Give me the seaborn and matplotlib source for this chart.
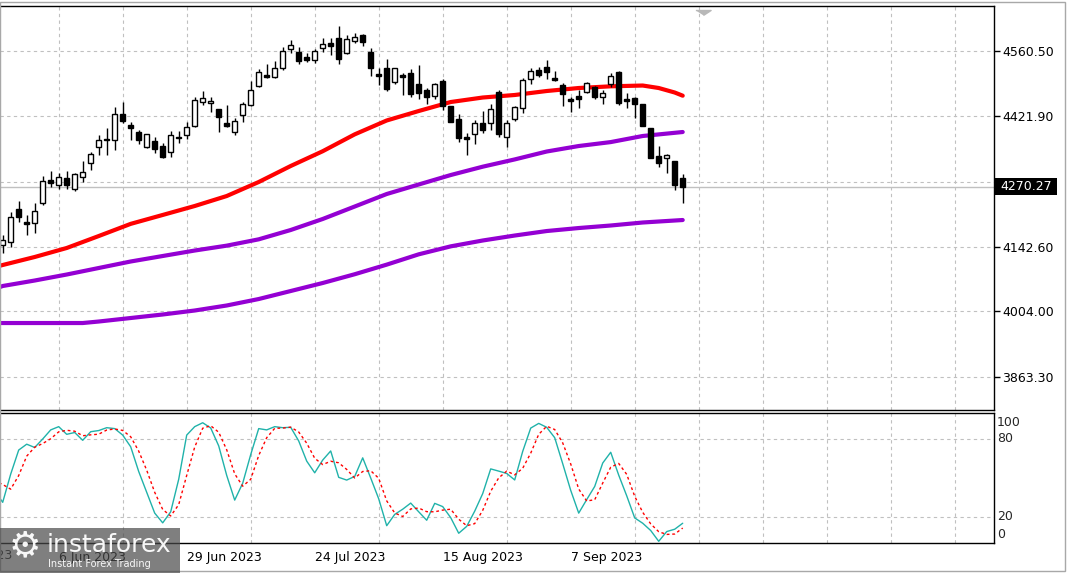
import numpy as np
import matplotlib
matplotlib.use("Agg")
import matplotlib.pyplot as plt
import matplotlib.transforms as mtransforms
from matplotlib.patches import Rectangle
import seaborn as sns

# ---------------- data ----------------
opens = [4145.9, 4152.9, 4222.7, 4195.0, 4192.8, 4235.5, 4284.6, 4273.9, 4288.8, 4265.4,
         4291.0, 4320.9, 4355.0, 4372.1, 4369.9, 4425.4, 4401.9, 4387.0, 4355.0, 4367.8,
         4357.1, 4344.3, 4376.3, 4380.6, 4399.8, 4451.0, 4448.9, 4436.1, 4406.2, 4387.0,
         4423.3, 4444.6, 4485.2, 4508.6, 4504.4, 4523.6, 4564.1, 4557.7, 4547.1, 4540.7,
         4566.3, 4576.9, 4587.6, 4555.6, 4581.2, 4594.0, 4557.7, 4510.8, 4523.6, 4493.7,
         4508.6, 4512.9, 4489.4, 4476.6, 4463.8, 4495.8, 4442.5, 4414.7, 4376.3, 4382.7,
         4406.2, 4406.2, 4472.4, 4376.3, 4414.7, 4438.2, 4500.1, 4519.3, 4525.7, 4502.2,
         4487.3, 4457.4, 4463.8, 4472.4, 4483.0, 4461.7, 4489.4, 4515.1, 4457.4, 4459.6,
         4446.8, 4395.5, 4335.8, 4331.5, 4325.1, 4288.8]
highs = [4167.2, 4216.9, 4239.8, 4209.9, 4235.5, 4293.1, 4303.8, 4299.5, 4303.8, 4299.5,
         4325.1, 4344.3, 4380.6, 4395.5, 4440.4, 4451.0, 4408.4, 4391.3, 4382.7, 4376.3,
         4363.5, 4389.1, 4389.1, 4408.4, 4461.7, 4474.5, 4461.7, 4436.1, 4444.6, 4416.9,
         4451.0, 4495.8, 4521.5, 4532.1, 4538.5, 4568.4, 4583.3, 4568.4, 4555.6, 4564.1,
         4587.6, 4587.6, 4613.2, 4594.0, 4598.3, 4596.1, 4566.3, 4523.6, 4542.8, 4523.6,
         4512.9, 4521.5, 4530.0, 4480.9, 4491.6, 4500.1, 4442.5, 4425.4, 4384.9, 4412.6,
         4431.8, 4446.8, 4476.6, 4412.6, 4442.5, 4502.2, 4523.6, 4525.7, 4540.7, 4517.2,
         4491.6, 4461.7, 4476.6, 4493.7, 4485.2, 4476.6, 4512.9, 4517.2, 4470.2, 4461.7,
         4446.8, 4395.5, 4357.1, 4340.1, 4325.1, 4297.4]
lows = [4128.8, 4141.6, 4195.0, 4167.2, 4171.5, 4231.2, 4269.6, 4265.4, 4265.4, 4261.1,
        4280.3, 4305.9, 4337.9, 4337.9, 4348.6, 4406.2, 4369.9, 4361.4, 4352.9, 4342.2,
        4331.5, 4333.7, 4363.5, 4372.1, 4397.7, 4444.6, 4429.7, 4387.0, 4397.7, 4380.6,
        4408.4, 4442.5, 4483.0, 4502.2, 4502.2, 4519.3, 4555.6, 4532.1, 4536.4, 4534.3,
        4557.7, 4551.3, 4532.1, 4553.5, 4576.9, 4570.5, 4506.5, 4487.3, 4474.5, 4489.4,
        4466.0, 4461.7, 4457.4, 4446.8, 4457.4, 4434.0, 4408.4, 4365.7, 4337.9, 4361.4,
        4384.9, 4391.3, 4376.3, 4355.0, 4410.5, 4427.6, 4489.4, 4504.4, 4500.1, 4495.8,
        4442.5, 4429.7, 4438.2, 4470.2, 4457.4, 4446.8, 4483.0, 4444.6, 4438.2, 4416.9,
        4399.8, 4331.5, 4312.3, 4299.5, 4263.2, 4235.5]
closes = [4156.5, 4206.3, 4205.6, 4190.7, 4219.1, 4283.1, 4278.2, 4291.0, 4273.9, 4297.4,
          4301.7, 4340.1, 4369.9, 4369.9, 4425.4, 4410.5, 4395.5, 4369.9, 4382.7, 4350.7,
          4333.7, 4380.6, 4374.2, 4397.7, 4455.3, 4459.6, 4453.2, 4419.0, 4399.8, 4410.5,
          4446.8, 4476.6, 4515.1, 4504.4, 4523.6, 4559.9, 4572.7, 4538.5, 4540.7, 4559.9,
          4574.8, 4570.5, 4542.8, 4585.5, 4589.7, 4579.1, 4523.6, 4506.5, 4478.8, 4523.6,
          4504.4, 4468.1, 4470.2, 4461.7, 4489.4, 4442.5, 4408.4, 4374.2, 4372.1, 4406.2,
          4391.3, 4436.1, 4382.7, 4406.2, 4440.4, 4498.0, 4517.2, 4508.6, 4515.1, 4498.0,
          4468.1, 4453.2, 4457.4, 4491.6, 4461.7, 4470.2, 4506.5, 4448.9, 4453.2, 4446.8,
          4399.8, 4331.5, 4320.9, 4337.9, 4273.9, 4270.27]

ma_red_idx = [-1, 0, 4, 8, 12, 16, 20, 24, 28, 32, 36, 40, 44, 48, 52, 56, 60, 64, 68, 72, 76, 80, 82, 84, 85]
ma_red = [4098.9, 4103.2, 4120.3, 4139.5, 4165.0, 4191.0, 4210.0, 4229.1, 4250.4, 4280.3, 4314.5,
          4346.0, 4382.0, 4411.6, 4431.8, 4451.0, 4460.6, 4466.0, 4474.5, 4480.9, 4484.5, 4486.2,
          4480.9, 4471.3, 4464.5]

ma_mid_idx = [-1, 0, 4, 8, 12, 16, 20, 24, 28, 32, 36, 40, 44, 48, 52, 56, 60, 64, 68, 72, 76, 80, 85]
ma_mid = [4052.0, 4058.4, 4070.1, 4082.9, 4096.8, 4110.7, 4122.4, 4134.1, 4144.5, 4158.0, 4177.9,
          4201.4, 4228.0, 4254.7, 4275.0, 4295.2, 4313.0, 4328.5, 4345.4, 4357.1, 4365.5, 4378.5, 4387.0]

ma_slow_idx = [-1, 0, 4, 8, 10, 12, 16, 20, 24, 28, 32, 36, 40, 44, 48, 52, 56, 60, 64, 68, 72, 76, 80, 85]
ma_slow = [3979.4, 3979.4, 3979.4, 3979.4, 3979.4, 3982.6, 3990.1, 3997.6, 4006.1, 4016.8, 4030.6,
           4047.7, 4064.8, 4083.5, 4104.0, 4126.0, 4143.0, 4155.5, 4166.1, 4175.7, 4182.1, 4187.5,
           4193.9, 4199.2]

stoch_main = [40.0, 31.3, 53.0, 71.5, 76.0, 73.5, 80.0, 87.0, 89.5, 83.6, 85.0,
              79.0, 85.6, 86.5, 88.7, 88.0, 83.0, 74.0, 55.0, 39.0, 23.0,
              15.5, 24.0, 49.0, 83.0, 89.5, 92.5, 88.5, 74.7, 52.0, 33.0,
              46.0, 68.0, 88.0, 87.0, 89.5, 88.7, 89.0, 78.5, 63.0, 54.0,
              63.8, 70.8, 50.5, 48.4, 51.2, 65.5, 50.0, 34.0, 13.3, 22.0,
              26.0, 30.7, 24.0, 17.5, 30.5, 28.0, 19.5, 7.5, 12.8, 24.5,
              38.0, 57.0, 55.3, 53.5, 48.5, 70.5, 88.4, 92.0, 89.0, 81.0,
              61.0, 40.5, 23.0, 33.4, 43.5, 61.5, 69.8, 52.2, 36.3, 19.3,
              15.2, 9.6, 1.3, 8.8, 10.6, 15.2]
stoch_signal = [48.0, 45.0, 41.4, 51.9, 66.8, 73.7, 76.5, 80.2, 85.5, 86.7, 86.0,
                82.5, 83.2, 83.7, 86.9, 87.7, 86.6, 81.7, 70.7, 56.0, 39.0,
                25.8, 20.8, 29.5, 52.0, 73.8, 88.3, 90.2, 85.2, 71.7, 53.2,
                43.7, 49.0, 67.3, 81.0, 88.2, 88.4, 89.1, 85.4, 76.8, 65.2,
                60.3, 62.9, 61.7, 56.6, 50.0, 55.0, 55.6, 49.8, 32.4, 23.1,
                20.4, 26.2, 26.9, 24.1, 24.0, 25.3, 26.0, 18.3, 13.3, 14.9,
                25.1, 39.8, 50.1, 55.3, 52.4, 57.5, 69.1, 83.6, 89.8, 87.3,
                77.0, 60.8, 41.5, 32.3, 33.3, 46.1, 58.3, 61.2, 52.8, 35.9,
                23.6, 14.7, 8.7, 6.6, 6.9, 11.5]

price_levels = [4560.50, 4421.90, 4281.30, 4142.60, 4004.00, 3863.30]
last_price = 4270.27
stoch_levels = [100, 80, 20, 0]
date_pos = [7, 23, 39, 55, 71]
date_labels = ["6 Jun 2023", "29 Jun 2023", "24 Jul 2023", "15 Aug 2023", "7 Sep 2023"]
prev_date_pos = -9
prev_date_label = "12 May 2023"

# ---------------- style / layout ----------------
sns.set_style("white")
plt.rcParams['font.family'] = ['DejaVu Sans']
plt.rcParams['font.size'] = 9

W, H = 1067, 573
fig = plt.figure(figsize=(W / 100, H / 100), dpi=100, facecolor='white')

def fx(x):
    return x / W

def fy(y):
    return 1 - y / H

ax1 = fig.add_axes([0, fy(410), fx(994), (410 - 6) / H])
ax2 = fig.add_axes([0, fy(543), fx(994), (543 - 413) / H])

GRID = '#c0c0c0'
DASH = (0, (3, 3))

# ---------------- main panel ----------------
idx = np.arange(len(opens))
o = np.array(opens)
c = np.array(closes)
up = c > o
body_bottom = np.minimum(o, c)
body_h = np.maximum(np.abs(c - o), 0.4)

sns.lineplot(x=ma_slow_idx, y=ma_slow, ax=ax1, color='#9400d3', linewidth=3, legend=False, zorder=2)
sns.lineplot(x=ma_mid_idx, y=ma_mid, ax=ax1, color='#9400d3', linewidth=3, legend=False, zorder=2)
sns.lineplot(x=ma_red_idx, y=ma_red, ax=ax1, color='#ff0000', linewidth=3, legend=False, zorder=2)

ax1.vlines(idx, lows, highs, color='black', linewidth=1.0, zorder=3)
ax1.bar(idx[up], body_h[up], bottom=body_bottom[up], width=0.62,
        color='white', edgecolor='black', linewidth=1.0, zorder=4)
ax1.bar(idx[~up], body_h[~up], bottom=body_bottom[~up], width=0.62,
        color='black', edgecolor='black', linewidth=1.0, zorder=4)

ax1.axhline(last_price, color='#c0c0c0', linewidth=1.0, zorder=1)

xmin, xmax = -0.3375, 123.91
ax1.set_xlim(xmin, xmax)
ax1.set_ylim(3793.8, 4655.9)
grid_pos = np.arange(7, 124, 8)
ax1.set_xticks(grid_pos)
ax1.tick_params(axis='x', length=0, labelbottom=False)
ax1.yaxis.tick_right()
ax1.set_yticks(price_levels, labels=[f"{v:.2f}" for v in price_levels])
ax1.tick_params(axis='y', direction='out', length=4, width=1, pad=2, labelsize=9,
                colors='black', right=True, left=False)
ax1.grid(True, axis='both', color=GRID, linestyle=DASH, linewidth=0.8)
ax1.set_axisbelow(True)
ax1.set_xlabel("")
ax1.set_ylabel("")
for s in ['top', 'right', 'bottom']:
    ax1.spines[s].set_color('black')
    ax1.spines[s].set_linewidth(1.0)
ax1.spines['left'].set_visible(False)

# chart-shift marker
ax1.scatter([87.5], [0.99], transform=mtransforms.blended_transform_factory(ax1.transData, ax1.transAxes),
            marker=[(-1, 0), (1, 0), (0, -0.65)], s=120, color='#b8b8b8', clip_on=False, zorder=6)

# ---------------- stochastic panel ----------------
sidx = np.arange(-1, len(stoch_main) - 1)
sns.lineplot(x=sidx, y=stoch_main, ax=ax2, color='#20b2aa', linewidth=1.0, legend=False, zorder=3)
sns.lineplot(x=sidx, y=stoch_signal, ax=ax2, color='#ff0000', linewidth=1.0, legend=False, zorder=3)
ax2.lines[-1].set_linestyle((0, (2, 2)))

ax2.set_xlim(xmin, xmax)
ax2.set_ylim(0, 100)
ax2.set_yticks([80, 20])
ax2.tick_params(axis='y', length=0, labelright=False, labelleft=False)
ax2.set_xticks(grid_pos, minor=True)
ax2.set_xticks(date_pos, labels=date_labels)
ax2.tick_params(axis='x', which='major', direction='out', length=4, width=1, pad=1.5,
                labelsize=9, colors='black')
ax2.tick_params(axis='x', which='minor', length=0)
for lab in ax2.get_xticklabels():
    lab.set_horizontalalignment('left')
ax2.grid(True, axis='x', which='minor', color=GRID, linestyle=DASH, linewidth=0.8)
ax2.grid(True, axis='y', which='major', color=GRID, linestyle=DASH, linewidth=0.8)
ax2.grid(False, axis='x', which='major')
ax2.set_axisbelow(True)
ax2.set_xlabel("")
ax2.set_ylabel("")
for s in ['top', 'right', 'bottom']:
    ax2.spines[s].set_color('black')
    ax2.spines[s].set_linewidth(1.0)
ax2.spines['left'].set_visible(False)

ax2.text(prev_date_pos, fy(549.1), prev_date_label,
         transform=mtransforms.blended_transform_factory(ax2.transData, fig.transFigure),
         ha='left', va='top', fontsize=9, clip_on=False)

# stochastic level labels
for lvl, ypix in zip(stoch_levels, [423, 439, 517, 534]):
    fig.text(fx(997), fy(ypix), str(lvl), ha='left', va='center', fontsize=9)

# last-price box
fig.add_artist(Rectangle((fx(995), fy(195)), fx(62), 17 / H, transform=fig.transFigure,
                         facecolor='black', edgecolor='none', zorder=20))
fig.text(fx(1000), fy(186.5), f"{last_price:.2f}", color='white', ha='left', va='center',
         fontsize=9, zorder=21)

# outer window frame
fig.add_artist(Rectangle((fx(0), fy(571)), fx(1065), 569 / H, transform=fig.transFigure,
                         fill=False, edgecolor='#a8a8a8', linewidth=1.0, zorder=15))

# watermark logo
fig.add_artist(Rectangle((0, 0), fx(180), (573 - 528) / H, transform=fig.transFigure,
                         facecolor='#494949', alpha=0.7, edgecolor='none', zorder=30))
fig.text(fx(25), fy(546), "\u2699", color='white', ha='center', va='center', fontsize=26,
         zorder=31, alpha=0.95)
fig.text(fx(47), fy(545), "instaforex", color='white', ha='left', va='center', fontsize=18,
         zorder=31, alpha=0.95)
fig.text(fx(48), fy(564), "Instant Forex Trading", color='white', ha='left', va='center',
         fontsize=7, zorder=31, alpha=0.95)

fig.savefig("out.png", dpi=100, facecolor='white')
